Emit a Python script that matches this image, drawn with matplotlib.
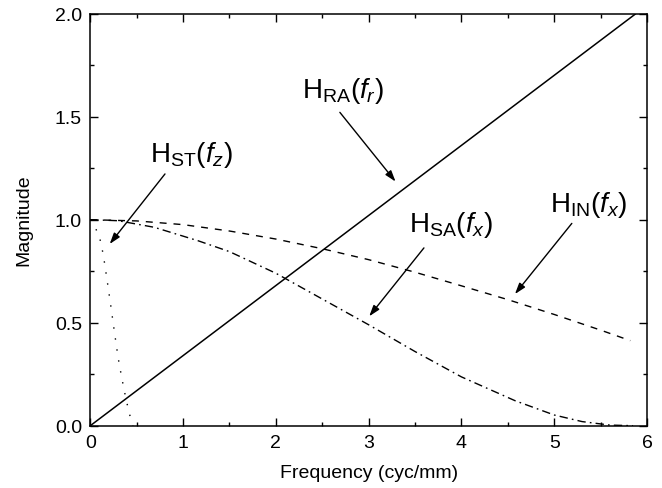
import numpy as np
import matplotlib
matplotlib.use('Agg')
import matplotlib.pyplot as plt
from matplotlib.ticker import MultipleLocator

plt.rcParams['font.family'] = ['Liberation Sans', 'DejaVu Sans']
plt.rcParams['mathtext.fontset'] = 'custom'
plt.rcParams['mathtext.rm'] = 'Liberation Sans'
plt.rcParams['mathtext.it'] = 'Liberation Sans:italic'

# ---- Curves ----
x_ra = [0.0, 5.88]
y_ra = [0.0, 2.0]

x_in = [0.0, 0.5, 1.0, 1.5, 2.0, 2.5, 3.0, 3.5, 4.0, 4.5, 5.0, 5.5, 5.82]
y_in = [1.0, 0.994, 0.976, 0.945, 0.906, 0.859, 0.806, 0.745, 0.679, 0.612, 0.54, 0.464, 0.413]

x_sa = [0.0, 0.3, 0.69, 1.16, 1.5, 2.0, 2.5, 3.0, 3.5, 4.0, 4.58, 5.0, 5.3, 5.6, 5.85]
y_sa = [1.0, 0.995, 0.963, 0.898, 0.845, 0.74, 0.615, 0.49, 0.36, 0.237, 0.121, 0.052, 0.02, 0.003, 0.0]

x_st = [0.0, 0.05, 0.1, 0.14, 0.18, 0.22, 0.26, 0.3, 0.34, 0.38, 0.42, 0.46]
y_st = [1.0, 0.965, 0.915, 0.83, 0.71, 0.585, 0.455, 0.33, 0.23, 0.14, 0.06, 0.0]

fig = plt.figure(figsize=(6.62, 4.89), dpi=100)
ax = fig.add_axes([0.1364, 0.1274, 0.8409, 0.8426])

ax.plot(x_ra, y_ra, color='k', lw=1.1, solid_capstyle='butt')
ax.plot(x_in, y_in, color='k', lw=1.0, dashes=(5, 5))
ax.plot(x_sa, y_sa, color='k', lw=1.0, dashes=(6, 3, 1.2, 3))
ax.plot(x_st, y_st, color='k', lw=1.0, dashes=(1, 7))

ax.set_xlim(0, 6)
ax.set_ylim(0, 2.0)
ax.xaxis.set_major_locator(MultipleLocator(1))
ax.xaxis.set_minor_locator(MultipleLocator(0.5))
ax.yaxis.set_major_locator(MultipleLocator(0.5))
ax.yaxis.set_minor_locator(MultipleLocator(0.25))
ax.yaxis.set_major_formatter(matplotlib.ticker.FormatStrFormatter('%.1f'))
ax.tick_params(which='both', direction='in', top=True, right=True, width=1.0,
               labelsize=14, pad=6)
ax.tick_params(which='major', length=5.5)
ax.tick_params(which='minor', length=3.2)
for s in ax.spines.values():
    s.set_linewidth(1.1)

ax.set_xlabel('Frequency (cyc/mm)', fontsize=14, labelpad=9)
ax.set_ylabel('Magnitude', fontsize=14, labelpad=16)

# ---- Labels and arrows ----
arrow = dict(arrowstyle='-|>,head_length=0.55,head_width=0.18', color='k',
             lw=1.0, mutation_scale=12, shrinkA=0, shrinkB=0)
lab = dict(fontsize=20, ha='left', va='baseline')

ax.text(2.28, 1.594, r'$\mathrm{H}_{\mathrm{RA}}(f_r)$', **lab)
ax.annotate('', xy=(3.29, 1.185), xytext=(2.69, 1.521), arrowprops=arrow)

ax.text(0.645, 1.286, r'$\mathrm{H}_{\mathrm{ST}}(f_z)$', **lab)
ax.annotate('', xy=(0.209, 0.882), xytext=(0.805, 1.222), arrowprops=arrow)

ax.text(3.44, 0.947, r'$\mathrm{H}_{\mathrm{SA}}(f_x)$', **lab)
ax.annotate('', xy=(3.006, 0.531), xytext=(3.596, 0.863), arrowprops=arrow)

ax.text(4.96, 1.044, r'$\mathrm{H}_{\mathrm{IN}}(f_x)$', **lab)
ax.annotate('', xy=(4.577, 0.639), xytext=(5.19, 0.982), arrowprops=arrow)

fig.savefig('out.png', dpi=100)
